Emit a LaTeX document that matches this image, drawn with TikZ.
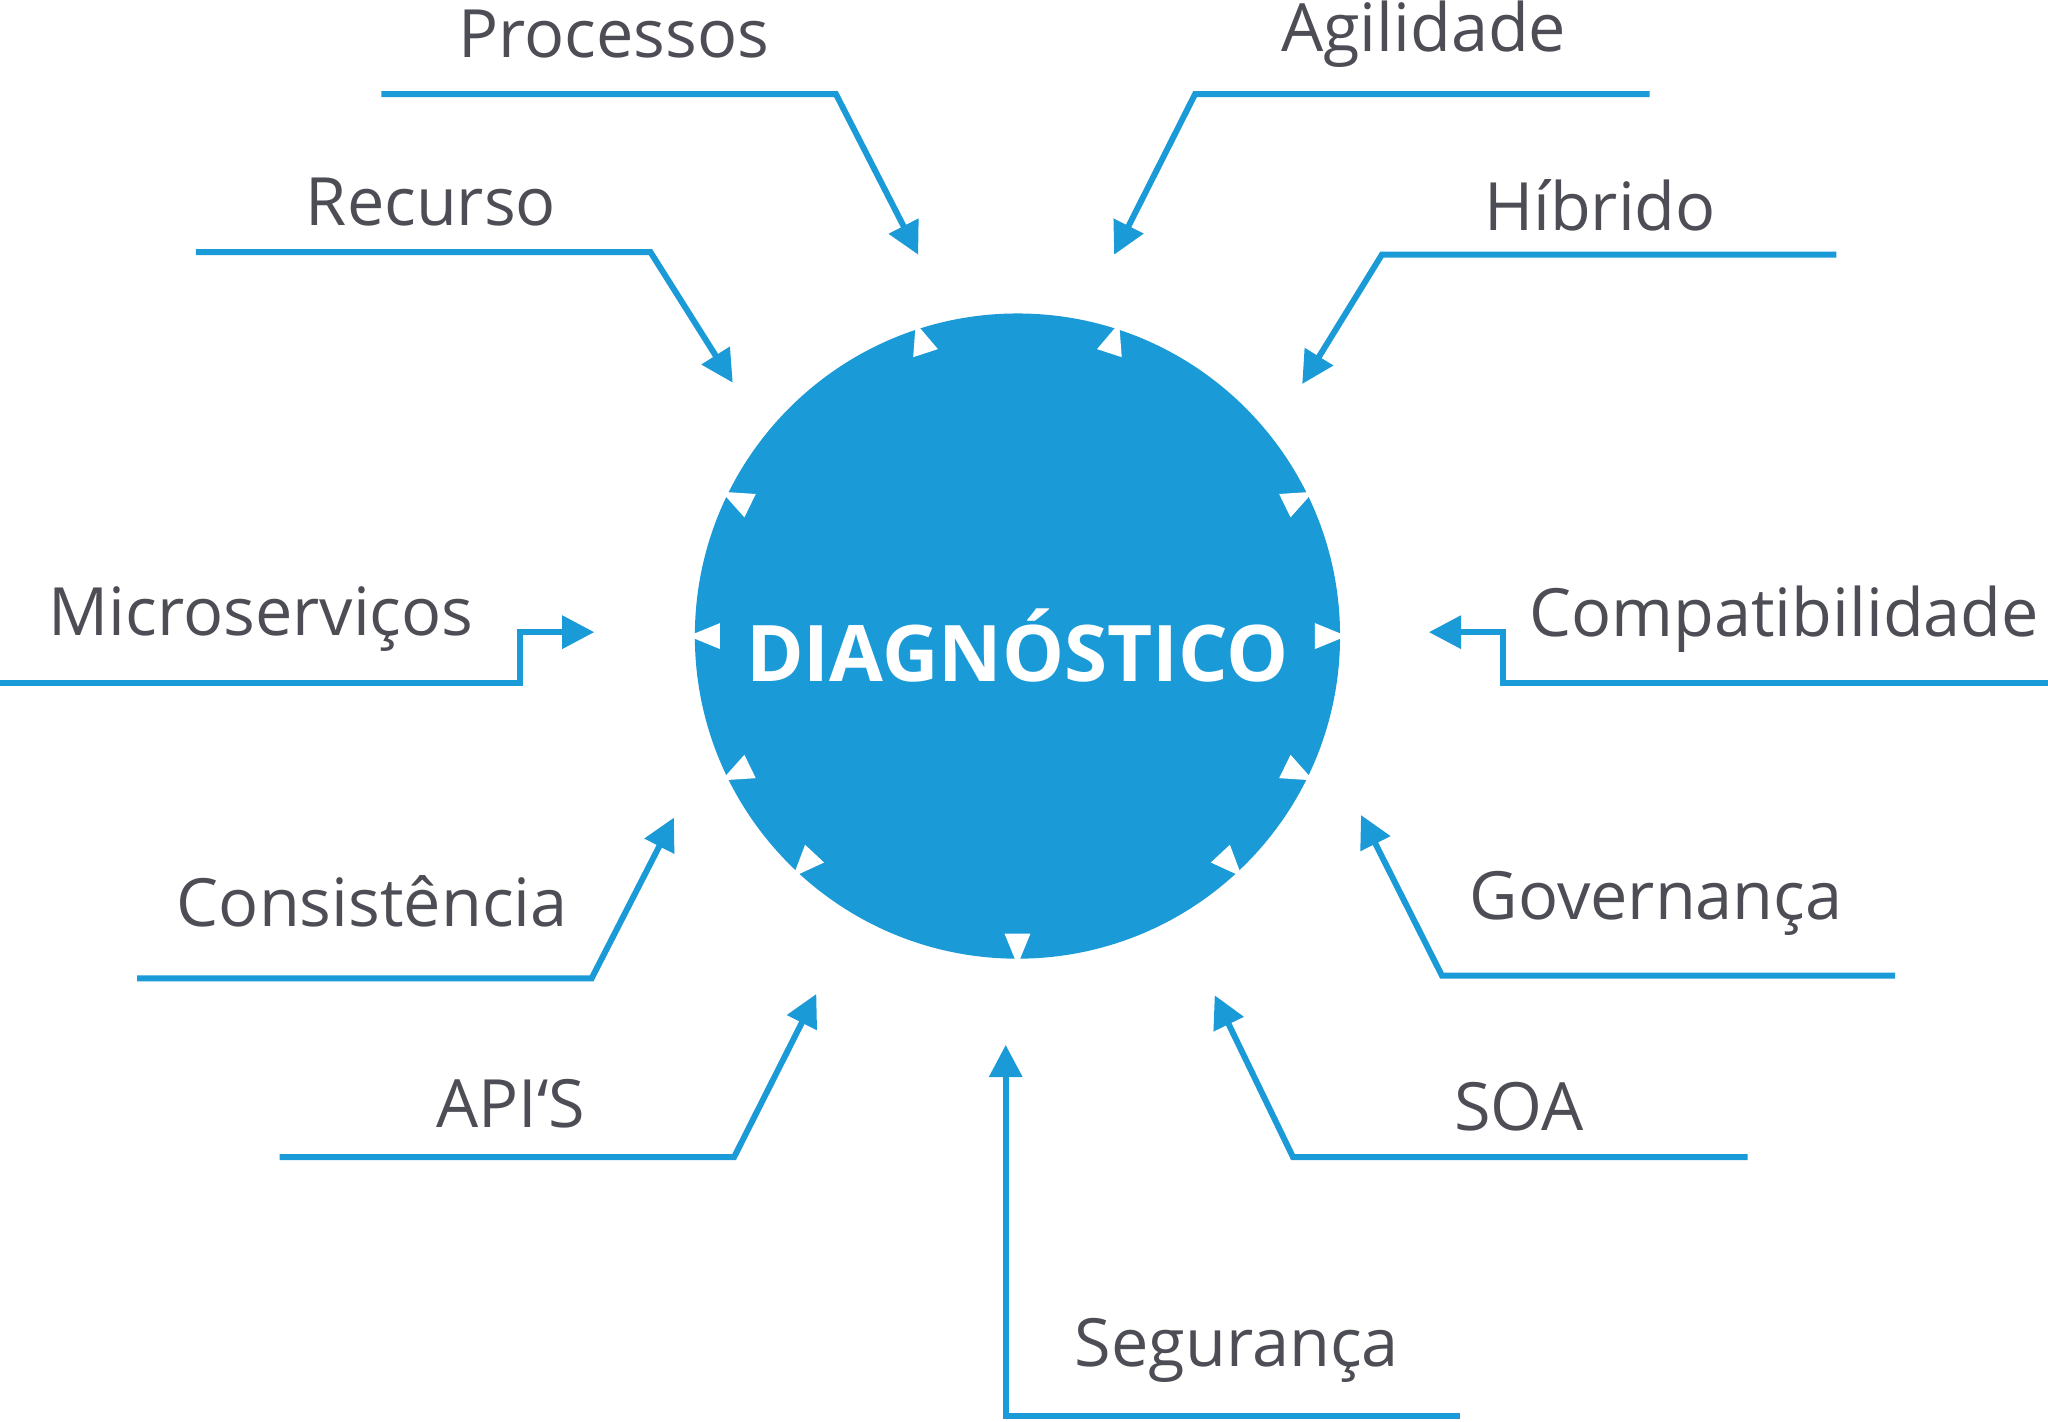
\documentclass[tikz,border=0pt]{standalone}
\usepackage{fontspec}
\setmainfont{Open Sans}
\usetikzlibrary{arrows.meta, calc}
\definecolor{diagblue}{HTML}{1A9AD6}
\definecolor{labelgray}{HTML}{4D4D55}
\begin{document}
\begin{tikzpicture}[x=0.01cm, y=-0.01cm]
  \tikzset{lbl/.style={text=labelgray, font=\fontsize{14.5}{17}\selectfont, inner sep=0pt}}
  \tikzset{feed/.style={draw=diagblue, line width=1.3pt, -{Triangle[length=7pt,width=7pt]}}}
  \tikzset{notch/.style={fill=white}}
  \useasboundingbox (0,0) rectangle (1568,1088);

  % central disc
  \fill[diagblue] (779,487) circle (247);
  \foreach \a in {-108,-72,-154,-26,180,0,154,26,133,47,90}{
    \fill[notch] ($(779,487)+(\a:252)$) -- ($(779,487)+(\a-2.5:228)$) -- ($(779,487)+(\a+2.5:228)$) -- cycle;
  }
  \node[text=white, font=\fontsize{17}{20}\selectfont\bfseries, inner sep=0pt] (diag) at (779,494) {DIAGNÓSTICO};

  % labels
  \foreach \name/\txt/\x/\y in {proc/Processos/470/26, agil/Agilidade/1090/26,
      rec/Recurso/330/155, hib/Híbrido/1225/157, micro/Microserviços/200/474,
      compat/Compatibilidade/1366/474, cons/Consistência/285/690,
      gov/Governança/1268/692, api/API{\char96}S/391/845, soa/SOA/1163/847,
      seg/Segurança/947/1034}{
    \node[lbl] (\name) at (\x,\y) {\txt};
  }

  % feeders
  \foreach \name/\xa/\ya/\xb/\yb/\xc/\yc in {proc/292/72/640/72/703/195,
      agil/1263/72/915/72/853/195, rec/150/193/498/193/561/293,
      hib/1406/195/1058/195/997/294, cons/105/749/453/749/516/626,
      gov/1451/747/1104/747/1042/624, api/214/886/562/886/625/761,
      soa/1338/886/990/886/930/762, seg/1118/1084/770/1084/770/800}{
    \coordinate (\name-s) at (\xa,\ya);
    \coordinate (\name-k) at (\xb,\yb);
    \coordinate (\name-e) at (\xc,\yc);
    \draw[feed] (\name-s) -- (\name-k) -- (\name-e);
  }
  \coordinate (micro-s) at (0,523);
  \coordinate (micro-e) at (455,484);
  \draw[feed] (micro-s) -- (398,523) |- (micro-e);
  \coordinate (compat-s) at (1568,523);
  \coordinate (compat-e) at (1094,484);
  \draw[feed] (compat-s) -- (1151,523) |- (compat-e);
\end{tikzpicture}
\end{document}
